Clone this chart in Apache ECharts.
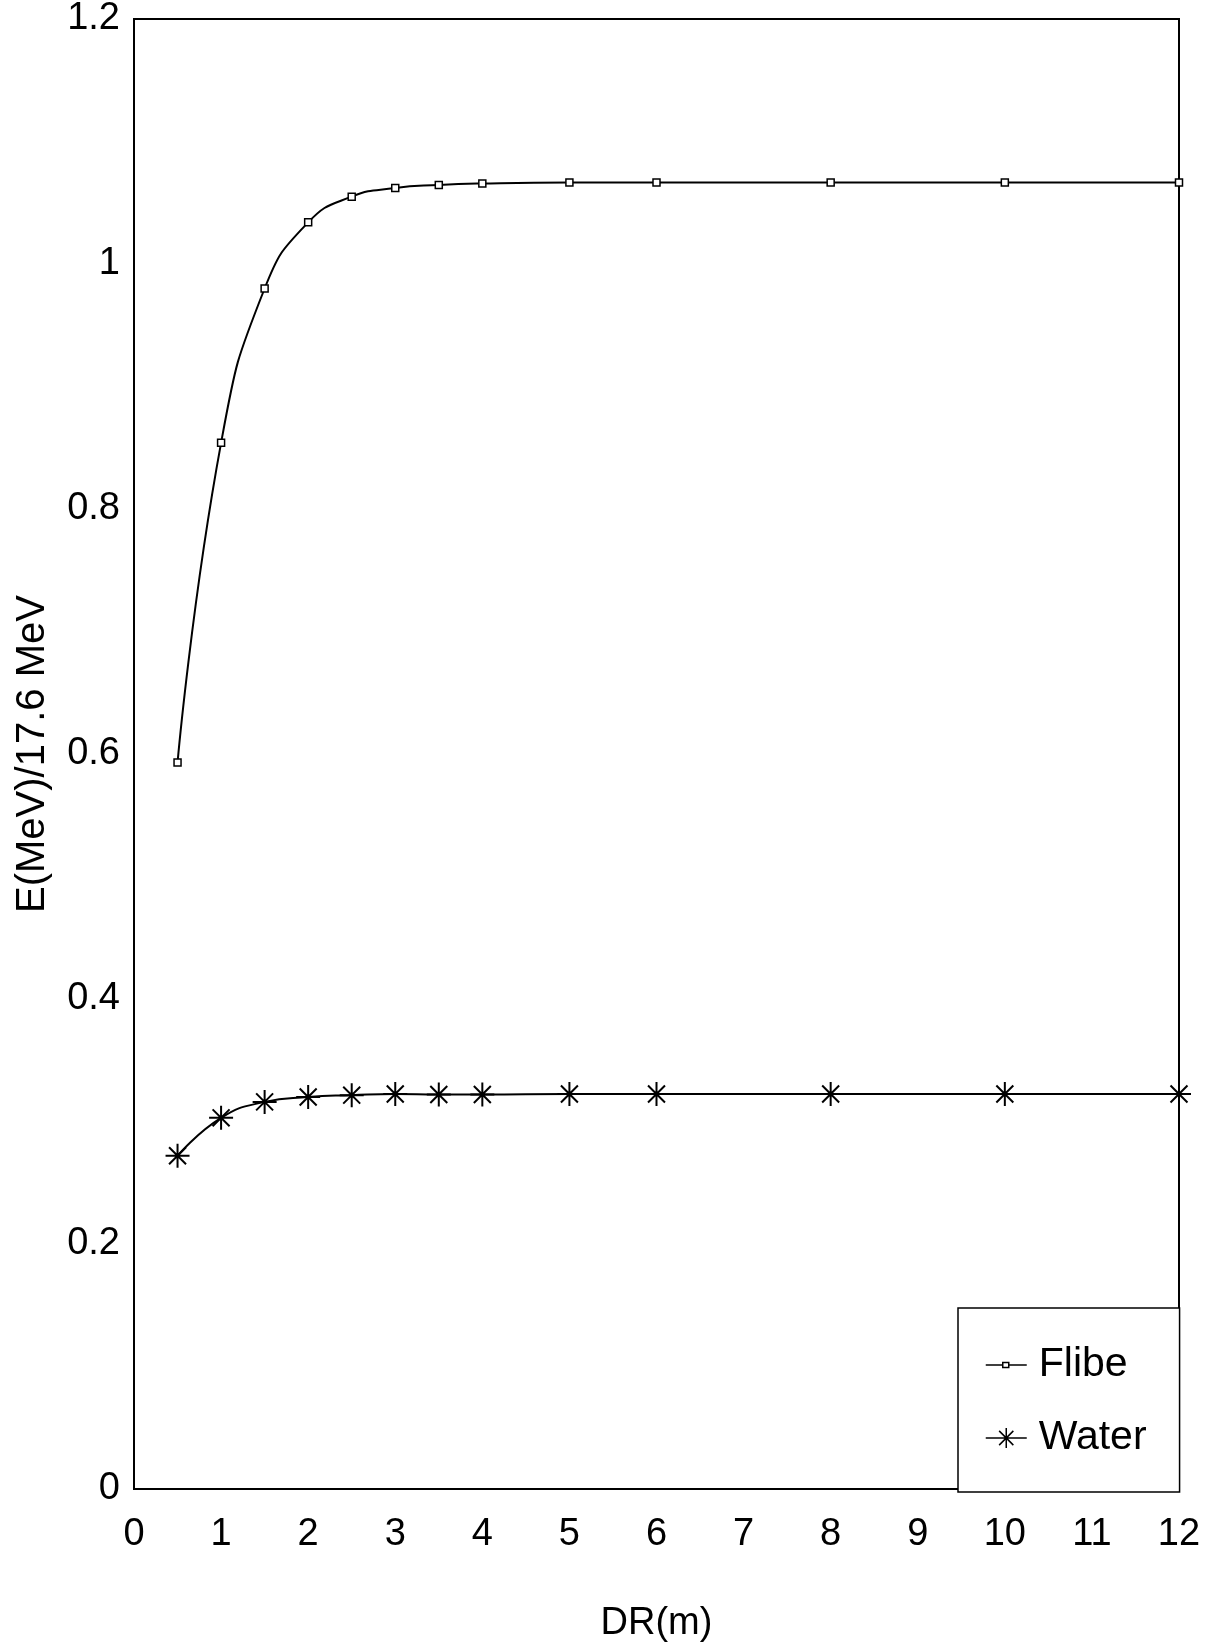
<!DOCTYPE html>
<html>
<head>
<meta charset="utf-8">
<script src="https://cdn.jsdelivr.net/npm/echarts@6/dist/echarts.min.js"></script>
<style>
html,body{margin:0;padding:0;background:#fff;}
#chart{width:1225px;height:1648px;}
</style>
</head>
<body>
<div id="chart"></div>
<script>
const dr = [0.5, 1, 1.5, 2, 2.5, 3, 3.5, 4, 5, 6, 8, 10, 12];
const flibe = [0.593, 0.854, 0.980, 1.034, 1.055, 1.062, 1.0645, 1.0657, 1.0665, 1.0665, 1.0665, 1.0665, 1.0665];
const water = [0.272, 0.303, 0.316, 0.320, 0.3215, 0.3225, 0.322, 0.322, 0.3225, 0.3225, 0.3225, 0.3225, 0.3225];
const seriesNames = ['Flibe', 'Water'];
const xTitle = 'DR(m)';
const yTitle = 'E(MeV)/17.6 MeV';

const FONT = '"Liberation Sans", Arial, Helvetica, sans-serif';
const starPath = 'path://M0,-10L0,10M-10,0L10,0M-7.07,-7.07L7.07,7.07M-7.07,7.07L7.07,-7.07';

const chart = echarts.init(document.getElementById('chart'), null, {renderer: 'canvas'});
chart.setOption({
  backgroundColor: '#fff',
  animation: false,
  grid: {left: 134, right: 46, top: 19, bottom: 156, show: true, borderColor: '#000', borderWidth: 2, backgroundColor: 'transparent'},
  xAxis: {
    type: 'value', min: 0, max: 12, interval: 1,
    name: xTitle, nameLocation: 'middle', nameGap: 116,
    nameTextStyle: {fontFamily: FONT, fontSize: 38, color: '#000'},
    axisLine: {show: true, lineStyle: {color: '#000', width: 2}},
    axisTick: {show: false},
    splitLine: {show: false},
    axisLabel: {fontFamily: FONT, fontSize: 38, color: '#000', margin: 27, showMinLabel: true, showMaxLabel: true}
  },
  yAxis: {
    type: 'value', min: 0, max: 1.2, interval: 0.2,
    name: yTitle, nameLocation: 'middle', nameGap: 81,
    nameTextStyle: {fontFamily: FONT, fontSize: 40, color: '#000', padding: [0, 0, 0, 0]},
    axisLine: {show: true, lineStyle: {color: '#000', width: 2}},
    axisTick: {show: false},
    splitLine: {show: false},
    axisLabel: {fontFamily: FONT, fontSize: 38, color: '#000', margin: 14,
      formatter: v => String(Math.round(v * 10) / 10)}
  },
  legend: {
    orient: 'vertical', left: 958, top: 1308,
    backgroundColor: '#fff', borderColor: '#000', borderWidth: 1.5,
    padding: [33, 33, 30, 27],
    itemGap: 25, itemWidth: 41, itemHeight: 20,
    textStyle: {fontFamily: FONT, fontSize: 41, color: '#000', lineHeight: 48, padding: [0, 0, 0, 7]},
    data: [
      {name: seriesNames[0], icon: 'path://M0,10L17,10M17,7.5h6v5h-6zM23,10L41,10M0,0.01L0,0M0,20L0,19.99',
       itemStyle: {color: '#fff', borderColor: '#000', borderWidth: 1.5}},
      {name: seriesNames[1], icon: 'path://M0,10L41,10M20.5,0L20.5,20M13.4,2.9L27.6,17.1M13.4,17.1L27.6,2.9',
       itemStyle: {color: '#000', borderColor: '#000', borderWidth: 1.5}}
    ]
  },
  series: [
    {
      name: seriesNames[0], type: 'line',
      data: dr.map((x, i) => [x, flibe[i]]),
      smooth: 0.5,
      symbol: 'rect', symbolSize: 7,
      lineStyle: {color: '#000', width: 2},
      itemStyle: {color: '#fff', borderColor: '#000', borderWidth: 1.5},
      z: 3
    },
    {
      name: seriesNames[1], type: 'line',
      data: dr.map((x, i) => [x, water[i]]),
      smooth: 0.5,
      symbol: starPath, symbolSize: 24,
      lineStyle: {color: '#000', width: 2},
      itemStyle: {color: '#000', borderColor: '#000', borderWidth: 2},
      z: 3
    }
  ]
});
</script>
</body>
</html>
